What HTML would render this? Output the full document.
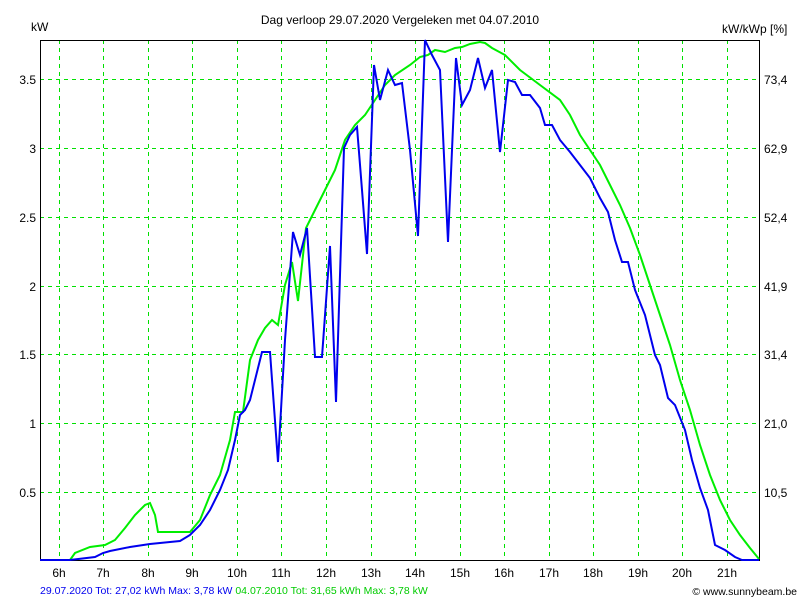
<!DOCTYPE html>
<html><head><meta charset="utf-8"><style>
body{margin:0;background:#fff}
svg{display:block;font-family:"Liberation Sans",sans-serif}
</style></head><body>
<svg width="800" height="600" viewBox="0 0 800 600" xmlns="http://www.w3.org/2000/svg">
<rect width="800" height="600" fill="#fff"/>
<g stroke="#00e000" stroke-width="1" stroke-dasharray="4,4" fill="none">
<line x1="59.5" y1="40" x2="59.5" y2="560"/><line x1="103.5" y1="40" x2="103.5" y2="560"/><line x1="148.5" y1="40" x2="148.5" y2="560"/><line x1="192.5" y1="40" x2="192.5" y2="560"/><line x1="237.5" y1="40" x2="237.5" y2="560"/><line x1="281.5" y1="40" x2="281.5" y2="560"/><line x1="326.5" y1="40" x2="326.5" y2="560"/><line x1="371.5" y1="40" x2="371.5" y2="560"/><line x1="415.5" y1="40" x2="415.5" y2="560"/><line x1="460.5" y1="40" x2="460.5" y2="560"/><line x1="504.5" y1="40" x2="504.5" y2="560"/><line x1="549.5" y1="40" x2="549.5" y2="560"/><line x1="593.5" y1="40" x2="593.5" y2="560"/><line x1="638.5" y1="40" x2="638.5" y2="560"/><line x1="682.5" y1="40" x2="682.5" y2="560"/><line x1="727.5" y1="40" x2="727.5" y2="560"/>
<line x1="40" y1="79.5" x2="759" y2="79.5"/><line x1="40" y1="148.5" x2="759" y2="148.5"/><line x1="40" y1="217.5" x2="759" y2="217.5"/><line x1="40" y1="286.5" x2="759" y2="286.5"/><line x1="40" y1="354.5" x2="759" y2="354.5"/><line x1="40" y1="423.5" x2="759" y2="423.5"/><line x1="40" y1="492.5" x2="759" y2="492.5"/>
</g>
<g stroke="#000" stroke-width="1" fill="none">
<line x1="40.5" y1="40" x2="40.5" y2="560"/><line x1="759.5" y1="40" x2="759.5" y2="560"/><line x1="40" y1="40.5" x2="760" y2="40.5"/><line x1="40" y1="560.5" x2="760" y2="560.5"/>
</g>
<polyline fill="none" stroke="#00ee00" stroke-width="2" points="40,560 70,560 75,553 90,547 105,545 115,540 125,528 135,515 145,505 150,503 155,515 158,532 180,532 190,532 200,520 210,495 220,475 230,440 235,412 243,412 250,360 258,340 265,328 272,320 278,325 285,285 292,262 298,301 306,228 315,210 325,190 335,170 345,140 355,125 365,115 375,100 385,85 395,75 410,65 420,57 428,55 435,50 445,52 455,48 462,47 470,44 480,42 485,43 492,48 505,55 520,70 540,85 560,100 570,115 580,135 590,150 600,165 610,185 620,205 630,228 640,255 650,285 660,315 670,345 680,380 690,410 700,445 710,475 720,500 730,520 740,535 750,548 759,559"/>
<polyline fill="none" stroke="#0000ee" stroke-width="2" points="40,560 70,560 95,557 103,553 110,551 130,547 150,544 170,542 180,541 190,535 200,525 210,510 220,490 228,470 235,440 240,415 245,410 250,400 262,352 270,352 278,462 285,340 293,232 300,255 307,228 315,357 322,357 330,246 336,402 344,148 350,135 357,127 362,190 367,254 374,65 380,100 388,70 395,85 402,83 410,150 418,236 425,40 432,55 440,70 448,242 456,58 462,105 470,90 478,58 485,88 492,70 500,152 508,80 515,82 522,95 530,95 540,108 545,125 552,125 560,140 570,152 580,165 590,178 600,198 608,212 615,240 622,262 628,262 635,290 645,315 655,355 660,365 668,398 675,405 685,430 692,460 700,488 708,510 715,545 725,550 735,557 742,560 759,560"/>
<g font-size="12" fill="#000" text-anchor="end">
<text x="36" y="84">3.5</text><text x="36" y="153">3</text><text x="36" y="222">2.5</text><text x="36" y="291">2</text><text x="36" y="359">1.5</text><text x="36" y="428">1</text><text x="36" y="497">0.5</text>
</g>
<g font-size="12" fill="#000">
<text x="764" y="84">73,4</text><text x="764" y="153">62,9</text><text x="764" y="222">52,4</text><text x="764" y="291">41,9</text><text x="764" y="359">31,4</text><text x="764" y="428">21,0</text><text x="764" y="497">10,5</text>
<text x="31" y="31">kW</text><text x="722" y="33">kW/kWp [%]</text>
<text x="400" y="24" text-anchor="middle">Dag  verloop 29.07.2020   Vergeleken met 04.07.2010</text>
</g>
<g font-size="12" fill="#000" text-anchor="middle">
<text x="59" y="577">6h</text><text x="103" y="577">7h</text><text x="148" y="577">8h</text><text x="192" y="577">9h</text><text x="237" y="577">10h</text><text x="281" y="577">11h</text><text x="326" y="577">12h</text><text x="371" y="577">13h</text><text x="415" y="577">14h</text><text x="460" y="577">15h</text><text x="504" y="577">16h</text><text x="549" y="577">17h</text><text x="593" y="577">18h</text><text x="638" y="577">19h</text><text x="682" y="577">20h</text><text x="727" y="577">21h</text>
</g>
<text x="40" y="594" font-size="10.5"><tspan fill="#0000ee">29.07.2020 Tot: 27,02 kWh Max: 3,78 kW </tspan><tspan fill="#00cc00">04.07.2010 Tot: 31,65 kWh Max: 3,78 kW</tspan></text>
<text x="797" y="595" font-size="10.5" fill="#000" text-anchor="end">© www.sunnybeam.be</text>
</svg>
</body></html>
